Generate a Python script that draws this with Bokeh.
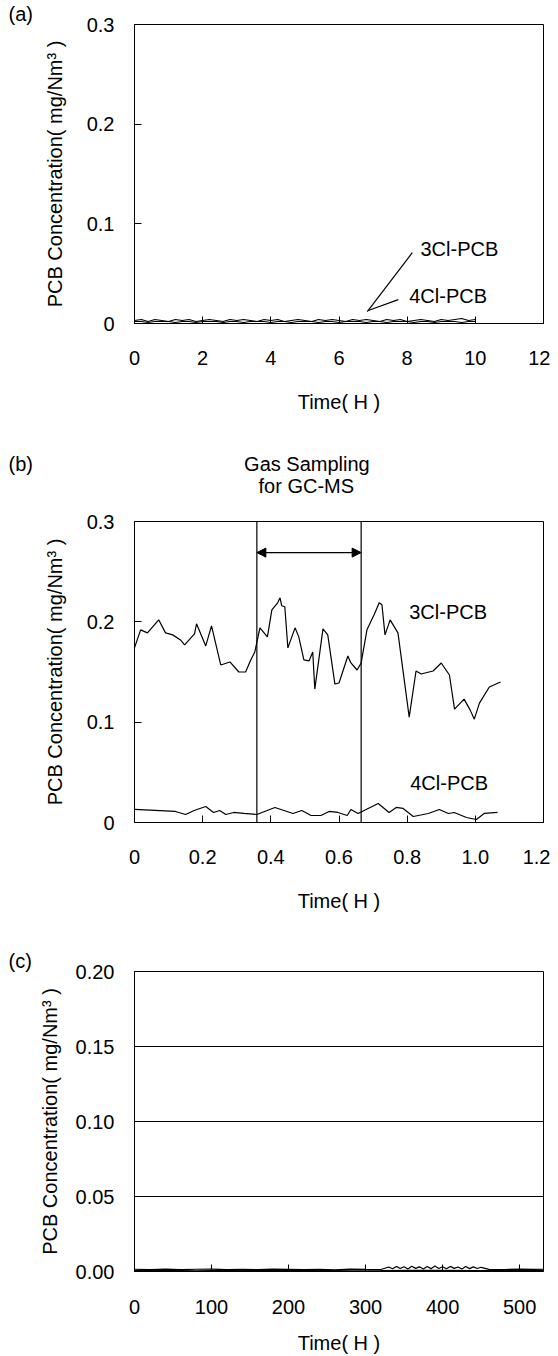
from bokeh.plotting import figure
from bokeh.models import Range1d, Span, Arrow, NormalHead, Label, FixedTicker, PrintfTickFormatter
from bokeh.layouts import column
from bokeh.embed import file_html
from bokeh.resources import INLINE

FONT = "Liberation Sans"
FS = "20px"

# ---------------- data ----------------
# Panel (a)
a_time = [0.0, 0.2, 0.4, 0.6, 0.8, 1.0, 1.2, 1.4, 1.6, 1.8, 2.0, 2.2, 2.4, 2.6, 2.8, 3.0, 3.2,
          3.4, 3.6, 3.8, 4.0, 4.2, 4.4, 4.6, 4.8, 5.0, 5.2, 5.4, 5.6, 5.8, 6.0, 6.2, 6.4, 6.6,
          6.8, 7.0, 7.2, 7.4, 7.6, 7.8, 8.0, 8.2, 8.4, 8.6, 8.8, 9.0, 9.2, 9.4, 9.6, 9.8, 10.0]
a_3cl = [0.003, 0.004, 0.002, 0.004, 0.003, 0.002, 0.004, 0.003, 0.004, 0.002, 0.003, 0.004,
         0.003, 0.002, 0.004, 0.003, 0.004, 0.003, 0.002, 0.004, 0.003, 0.004, 0.002, 0.003,
         0.004, 0.003, 0.002, 0.004, 0.003, 0.004, 0.003, 0.002, 0.004, 0.003, 0.004, 0.003,
         0.002, 0.004, 0.003, 0.004, 0.002, 0.003, 0.004, 0.003, 0.002, 0.004, 0.003, 0.004,
         0.005, 0.003, 0.004]
a_4cl = [0.002, 0.002, 0.001, 0.002, 0.002, 0.002, 0.001, 0.002, 0.002, 0.001, 0.002, 0.002,
         0.002, 0.001, 0.002, 0.002, 0.001, 0.002, 0.002, 0.002, 0.001, 0.002, 0.002, 0.001,
         0.002, 0.002, 0.002, 0.001, 0.002, 0.002, 0.001, 0.002, 0.002, 0.002, 0.001, 0.002,
         0.002, 0.001, 0.002, 0.002, 0.002, 0.001, 0.002, 0.002, 0.001, 0.002, 0.002, 0.002,
         0.001, 0.002, 0.002]

# Panel (b)
b_time_3cl = [0.000, 0.018, 0.038, 0.071, 0.091, 0.112, 0.135, 0.147, 0.176, 0.182, 0.209,
              0.226, 0.253, 0.280, 0.306, 0.326, 0.341, 0.353, 0.368, 0.390, 0.403, 0.420,
              0.427, 0.432, 0.441, 0.450, 0.471, 0.482, 0.497, 0.512, 0.523, 0.529, 0.553,
              0.567, 0.588, 0.600, 0.626, 0.635, 0.653, 0.665, 0.682, 0.703, 0.718, 0.726,
              0.735, 0.750, 0.773, 0.806, 0.826, 0.841, 0.876, 0.900, 0.924, 0.939, 0.967,
              0.985, 0.997, 1.012, 1.041, 1.074]
b_3cl = [0.174, 0.192, 0.189, 0.202, 0.189, 0.187, 0.182, 0.177, 0.188, 0.198, 0.176,
         0.196, 0.157, 0.160, 0.150, 0.150, 0.162, 0.170, 0.194, 0.185, 0.212, 0.219,
         0.224, 0.216, 0.215, 0.174, 0.194, 0.185, 0.162, 0.161, 0.170, 0.133, 0.193,
         0.187, 0.138, 0.139, 0.166, 0.159, 0.152, 0.159, 0.192, 0.207, 0.219, 0.217,
         0.187, 0.202, 0.189, 0.105, 0.151, 0.148, 0.151, 0.159, 0.147, 0.113, 0.123,
         0.112, 0.103, 0.119, 0.135, 0.140]
b_time_4cl = [0.000, 0.060, 0.120, 0.150, 0.175, 0.209, 0.232, 0.250, 0.268, 0.291, 0.321,
              0.359, 0.412, 0.465, 0.491, 0.518, 0.547, 0.571, 0.597, 0.624, 0.635, 0.656,
              0.715, 0.747, 0.768, 0.788, 0.818, 0.862, 0.894, 0.921, 0.938, 0.974, 1.003,
              1.026, 1.065]
b_4cl = [0.013, 0.012, 0.011, 0.008, 0.012, 0.016, 0.010, 0.012, 0.008, 0.010, 0.009,
         0.008, 0.015, 0.009, 0.012, 0.007, 0.007, 0.011, 0.010, 0.007, 0.013, 0.009,
         0.019, 0.010, 0.015, 0.014, 0.006, 0.009, 0.013, 0.009, 0.010, 0.005, 0.003,
         0.009, 0.010]
gas_start = 0.359
gas_end = 0.665
gas_arrow_y = 0.269

# Panel (c)
c_time_3cl = [0, 20, 40, 60, 80, 100, 120, 140, 160, 180, 200, 220, 240, 260, 280, 300, 320,
              330, 335, 340, 345, 350, 355, 360, 365, 370, 375, 380, 385, 390, 395, 400, 405,
              410, 415, 420, 425, 430, 435, 440, 445, 450, 460, 480, 500, 520, 531]
c_3cl = [0.0015, 0.0012, 0.0016, 0.0013, 0.0015, 0.0016, 0.0012, 0.0015, 0.0013, 0.0016,
         0.0014, 0.0012, 0.0015, 0.0011, 0.0016, 0.0014, 0.0013,
         0.0030, 0.0018, 0.0034, 0.0020, 0.0032, 0.0017, 0.0035, 0.0021, 0.0031, 0.0016,
         0.0033, 0.0019, 0.0036, 0.0020, 0.0032, 0.0018, 0.0034, 0.0021, 0.0030, 0.0017,
         0.0033, 0.0019, 0.0031, 0.0020, 0.0028,
         0.0014, 0.0013, 0.0016, 0.0014, 0.0015]
c_time_4cl = [0, 40, 80, 120, 160, 200, 240, 280, 320, 360, 400, 440, 480, 531]
c_4cl = [0.0006, 0.0007, 0.0005, 0.0007, 0.0006, 0.0006, 0.0007, 0.0005, 0.0006, 0.0008,
         0.0007, 0.0006, 0.0006, 0.0007]

y_title = "PCB Concentration( mg/Nm\u00b3 )"
x_title = "Time( H )"
NB = "\u00a0"


def style_axes(p, xticks, yticks, xfmt=None, yfmt=None, xover=None, yover=None,
               x_label_stand=27, x_title_stand=23, y_title_stand=18):
    p.xaxis.ticker = FixedTicker(ticks=xticks)
    p.yaxis.ticker = FixedTicker(ticks=yticks)
    if xfmt:
        p.xaxis.formatter = PrintfTickFormatter(format=xfmt)
    if yfmt:
        p.yaxis.formatter = PrintfTickFormatter(format=yfmt)
    if xover:
        p.xaxis.major_label_overrides = xover
    if yover:
        p.yaxis.major_label_overrides = yover
    for ax in (p.xaxis[0], p.yaxis[0]):
        ax.axis_line_color = "black"
        ax.axis_line_width = 1
        ax.major_tick_in = 7
        ax.major_tick_out = 0
        ax.major_tick_line_color = "black"
        ax.minor_tick_line_color = None
        ax.major_label_text_font = FONT
        ax.major_label_text_font_size = FS
        ax.major_label_text_color = "black"
        ax.axis_label_text_font = FONT
        ax.axis_label_text_font_size = FS
        ax.axis_label_text_font_style = "normal"
        ax.axis_label_text_color = "black"
    p.xaxis.major_label_standoff = x_label_stand
    p.yaxis.major_label_standoff = 20
    p.xaxis.axis_label_standoff = x_title_stand
    p.yaxis.axis_label_standoff = y_title_stand
    p.xaxis.axis_label = x_title
    p.yaxis.axis_label = y_title


def make_fig(height, btop, bbot, xr, yr):
    p = figure(width=550, height=height, x_range=Range1d(*xr), y_range=Range1d(*yr),
               output_backend="svg", toolbar_location=None,
               min_border_left=134, min_border_right=7,
               min_border_top=btop, min_border_bottom=bbot)
    p.outline_line_color = "black"
    p.outline_line_width = 1
    p.outline_line_alpha = 1
    p.xgrid.grid_line_color = None
    p.ygrid.grid_line_color = None
    p.background_fill_color = "white"
    p.border_fill_color = "white"
    return p


def set_title(t, text, offset, standoff):
    t.text = text
    t.text_font = FONT
    t.text_font_size = FS
    t.text_font_style = "normal"
    t.text_color = "black"
    t.text_line_height = 1.0
    t.align = "left"
    t.offset = offset
    t.standoff = standoff


def add_label(p, x, y, text, align="left"):
    p.add_layout(Label(x=x, y=y, text=text, text_font=FONT, text_font_size=FS,
                       text_color="black", text_align=align, text_baseline="middle"))


# ---------------- (a) ----------------
pa = make_fig(425, 23, 102, (0, 12), (0, 0.3))
style_axes(pa, [0, 2, 4, 6, 8, 10, 12], [0, 0.1, 0.2, 0.3], yfmt="%.1f", yover={0: "0"})
set_title(pa.title, "(a)", -126, 0)
pa.line(a_time, a_3cl, line_color="black", line_width=1.2)
pa.line(a_time, a_4cl, line_color="black", line_width=1.2)
pa.segment(x0=[8.15, 7.74], y0=[0.071, 0.024], x1=[6.83, 6.86], y1=[0.012, 0.013],
           line_color="black", line_width=1.2)
add_label(pa, 8.39, 0.075, "3Cl-PCB")
add_label(pa, 8.06, 0.028, "4Cl-PCB")

# ---------------- (b) ----------------
pb = make_fig(505, 92, 108, (0, 1.2), (0, 0.3))
style_axes(pb, [0, 0.2, 0.4, 0.6, 0.8, 1.0, 1.2], [0, 0.1, 0.2, 0.3],
           xfmt="%.1f", yfmt="%.1f", xover={0: "0"}, yover={0: "0"})
set_title(pb.title, "(b)" + NB * 38 + "Gas Sampling\n" + NB * 45 + "for GC-MS", -126, 50)
pb.line(b_time_3cl, b_3cl, line_color="black", line_width=1.2)
pb.line(b_time_4cl, b_4cl, line_color="black", line_width=1.2)
for loc in (gas_start, gas_end):
    pb.add_layout(Span(location=loc, dimension="height", line_color="black", line_width=1.2))
pb.add_layout(Arrow(x_start=gas_start, x_end=gas_end, y_start=gas_arrow_y, y_end=gas_arrow_y,
                    line_color="black", line_width=1.2,
                    start=NormalHead(size=9, fill_color="black", line_color="black"),
                    end=NormalHead(size=9, fill_color="black", line_color="black")))
add_label(pb, 0.806, 0.210, "3Cl-PCB")
add_label(pb, 0.809, 0.039, "4Cl-PCB")

# ---------------- (c) ----------------
pc = make_fig(426, 41, 85, (0, 531), (0, 0.2))
style_axes(pc, [0, 100, 200, 300, 400, 500], [0, 0.05, 0.10, 0.15, 0.20], yfmt="%.2f",
           x_label_stand=28, x_title_stand=15, y_title_stand=12)
set_title(pc.title, "(c)", -126, 0)
pc.ygrid.grid_line_color = "black"
pc.ygrid.grid_line_alpha = 1
pc.ygrid.grid_line_width = 1
pc.line(c_time_3cl, c_3cl, line_color="black", line_width=1.2)
pc.line(c_time_4cl, c_4cl, line_color="black", line_width=1.2)

layout = column(pa, pb, pc, spacing=0)
open("out.html", "w").write(file_html(layout, INLINE))
